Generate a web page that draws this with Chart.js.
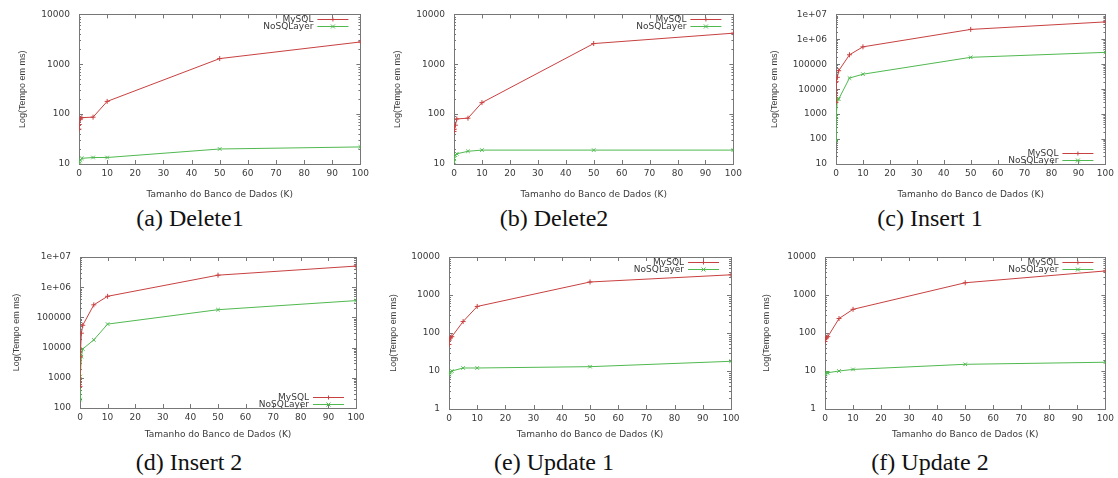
<!DOCTYPE html>
<html>
<head>
<meta charset="utf-8">
<script src="https://cdn.jsdelivr.net/npm/chart.js@4.4.0/dist/chart.umd.min.js"></script>
<style>
  body { margin: 0; background: #fff; width: 1118px; height: 478px; position: relative; overflow: hidden; }
  canvas { position: absolute; }
  .cap { position: absolute; font-family: 'Liberation Serif', 'DejaVu Serif', serif; font-size: 24px; color: #111; white-space: nowrap; transform: translate(-50%, -50%); }
</style>
</head>
<body>
<script>
// database sizes in K records
const sizes = [0.01, 0.1, 0.5, 1, 5, 10, 50, 100];
const xTicks = [0, 10, 20, 30, 40, 50, 60, 70, 80, 90, 100];

const delete1MySQL = [50, 62, 80, 85, 87, 180, 1300, 2800];
const delete1NoSQL = [10, 11, 12, 13, 13.5, 13.5, 20, 22];
const delete2MySQL = [45, 50, 60, 80, 83, 170, 2600, 4200];
const delete2NoSQL = [11, 13, 15, 16, 18, 19, 19, 19];
const insert1MySQL = [3000, 20000, 30000, 55000, 240000, 500000, 2500000, 5000000];
const insert1NoSQL = [85, 800, 4000, 4000, 28000, 40000, 190000, 300000];
const insert2MySQL = [520, 5000, 30000, 55000, 260000, 500000, 2500000, 5000000];
const insert2NoSQL = [190, 1100, 5000, 9000, 18000, 60000, 180000, 360000];
const update1MySQL = [50, 65, 75, 80, 200, 500, 2200, 3400];
const update1NoSQL = [8, 9, 9.5, 10, 12, 12, 13, 18];
const update2MySQL = [60, 70, 75, 80, 240, 420, 2100, 4300];
const update2NoSQL = [8, 8.5, 9, 9, 10, 11, 15, 17];

const ticksSmall = [10, 100, 1000, 10000];
const ticksInsert1 = [10, 100, 1000, 1e4, 1e5, 1e6, 1e7];
const ticksInsert2 = [100, 1000, 1e4, 1e5, 1e6, 1e7];
const ticksUpdate = [1, 10, 100, 1000, 10000];

const RED = 'rgb(200,64,64)';
const GREEN = 'rgb(80,185,80)';
const TXT = '#3a3a3a';
const SANS = "'DejaVu Sans', sans-serif";

// area = [left, top, right, bottom] inside each 200px high canvas
const panels = [
  { x: 0,   y: 0,   w: 373, area: [79, 14, 362, 164], yT: 23, xT: 184, yMin: 10,  yMax: 1e4, yTicks: ticksSmall,   my: delete1MySQL, no: delete1NoSQL, key: 'top',    cap: '(a) Delete1',  cx: 190, cy: 218 },
  { x: 373, y: 0,   w: 373, area: [81, 14, 363, 164], yT: 25, xT: 184, yMin: 10,  yMax: 1e4, yTicks: ticksSmall,   my: delete2MySQL, no: delete2NoSQL, key: 'top',    cap: '(b) Delete2',  cx: 554, cy: 218 },
  { x: 746, y: 0,   w: 372, area: [90, 14, 363, 164], yT: 29, xT: 184, yMin: 10,  yMax: 1e7, yTicks: ticksInsert1, my: insert1MySQL, no: insert1NoSQL, key: 'bottom', cap: '(c) Insert 1', cx: 930, cy: 218 },
  { x: 0,   y: 240, w: 373, area: [80, 17, 356, 168], yT: 17, xT: 188, yMin: 100, yMax: 1e7, yTicks: ticksInsert2, my: insert2MySQL, no: insert2NoSQL, key: 'bottom', cap: '(d) Insert 2', cx: 189, cy: 462 },
  { x: 373, y: 240, w: 373, area: [76, 17, 358, 169], yT: 21, xT: 188, yMin: 1,   yMax: 1e4, yTicks: ticksUpdate,  my: update1MySQL, no: update1NoSQL, key: 'top',    cap: '(e) Update 1', cx: 554, cy: 462 },
  { x: 746, y: 240, w: 372, area: [79, 17, 360, 169], yT: 21, xT: 188, yMin: 1,   yMax: 1e4, yTicks: ticksUpdate,  my: update2MySQL, no: update2NoSQL, key: 'top',    cap: '(f) Update 2', cx: 930, cy: 462 }
];
const H = 200;

function fmtLog(v) {
  if (v >= 1e6) return '1e+0' + Math.round(Math.log10(v));
  return String(v);
}

function mark(ctx, style, x, y, r) {
  ctx.beginPath();
  if (style === 'cross') {
    ctx.moveTo(x - r, y); ctx.lineTo(x + r, y);
    ctx.moveTo(x, y - r); ctx.lineTo(x, y + r);
  } else {
    ctx.moveTo(x - r, y - r); ctx.lineTo(x + r, y + r);
    ctx.moveTo(x - r, y + r); ctx.lineTo(x + r, y - r);
  }
  ctx.stroke();
}

// gnuplot style border with inward ticks on all sides
const frame = {
  id: 'frame',
  beforeDatasetsDraw(chart) {
    const { ctx, chartArea: a, scales: { x, y } } = chart;
    ctx.save();
    ctx.strokeStyle = '#777';
    ctx.lineWidth = 1;
    ctx.strokeRect(Math.round(a.left) + 0.5, Math.round(a.top) + 0.5, Math.round(a.right - a.left), Math.round(a.bottom - a.top));
    ctx.beginPath();
    x.ticks.forEach(t => {
      const px = Math.round(x.getPixelForValue(t.value)) + 0.5;
      ctx.moveTo(px, a.bottom); ctx.lineTo(px, a.bottom - 4);
      ctx.moveTo(px, a.top); ctx.lineTo(px, a.top + 4);
    });
    y.ticks.forEach(t => {
      const py = Math.round(y.getPixelForValue(t.value)) + 0.5;
      ctx.moveTo(a.left, py); ctx.lineTo(a.left + 4, py);
      ctx.moveTo(a.right, py); ctx.lineTo(a.right - 4, py);
      for (let m = 2; m <= 9; m++) {
        const v = t.value * m;
        if (v >= y.max) break;
        const pm = Math.round(y.getPixelForValue(v)) + 0.5;
        ctx.moveTo(a.left, pm); ctx.lineTo(a.left + 2, pm);
        ctx.moveTo(a.right, pm); ctx.lineTo(a.right - 2, pm);
      }
    });
    ctx.stroke();
    ctx.restore();
  }
};

const key = {
  id: 'key',
  afterDraw(chart, args, opts) {
    const { ctx, chartArea: a } = chart;
    const rowH = 7;
    const y0 = opts.pos === 'top' ? a.top + 4.5 : a.bottom - 4 - rowH;
    ctx.save();
    ctx.font = '9px ' + SANS;
    ctx.textAlign = 'right';
    ctx.textBaseline = 'middle';
    chart.data.datasets.forEach((ds, i) => {
      const yy = Math.round(y0 + i * rowH) + 0.5;
      ctx.fillStyle = TXT;
      ctx.fillText(ds.label, a.right - 47, yy);
      ctx.strokeStyle = ds.borderColor;
      ctx.lineWidth = 1;
      ctx.beginPath();
      ctx.moveTo(a.right - 43, yy); ctx.lineTo(a.right - 12, yy);
      ctx.stroke();
      mark(ctx, ds.pointStyle, a.right - 27.5, yy, 2);
    });
    ctx.restore();
  }
};

panels.forEach(p => {
  const cv = document.createElement('canvas');
  cv.width = p.w; cv.height = H;
  cv.style.left = p.x + 'px'; cv.style.top = p.y + 'px';
  document.body.appendChild(cv);

  const cap = document.createElement('div');
  cap.className = 'cap';
  cap.textContent = p.cap;
  cap.style.left = p.cx + 'px'; cap.style.top = p.cy + 'px';
  document.body.appendChild(cap);

  const [L, T, R, B] = p.area;
  const tickFont = { family: SANS, size: 9 };

  new Chart(cv.getContext('2d'), {
    type: 'line',
    data: {
      datasets: [
        { label: 'MySQL', data: sizes.map((s, i) => ({ x: s, y: p.my[i] })), borderColor: RED, backgroundColor: RED,
          borderWidth: 1, pointStyle: 'cross', pointRadius: 2.5, pointBorderWidth: 1, tension: 0 },
        { label: 'NoSQLayer', data: sizes.map((s, i) => ({ x: s, y: p.no[i] })), borderColor: GREEN, backgroundColor: GREEN,
          borderWidth: 1, pointStyle: 'crossRot', pointRadius: 2.5, pointBorderWidth: 1, tension: 0 }
      ]
    },
    options: {
      responsive: false,
      animation: false,
      events: [],
      layout: { padding: { left: 0, top: T, right: p.w - R, bottom: 0 } },
      plugins: { legend: { display: false }, tooltip: { enabled: false }, key: { pos: p.key } },
      scales: {
        x: {
          type: 'linear', min: 0, max: 100,
          afterFit: s => { s.height = H - B; },
          afterBuildTicks: s => { s.ticks = xTicks.map(v => ({ value: v })); },
          grid: { display: false, drawTicks: false },
          border: { display: false },
          ticks: { padding: 4, maxRotation: 0, autoSkip: false, color: TXT, font: tickFont },
          title: { display: true, text: 'Tamanho do Banco de Dados (K)', color: TXT, font: tickFont,
                   padding: { top: (H - p.xT) - 5.4, bottom: 0 } }
        },
        y: {
          type: 'logarithmic', min: p.yMin, max: p.yMax,
          afterFit: s => { s.width = L; },
          afterBuildTicks: s => { s.ticks = p.yTicks.map(v => ({ value: v })); },
          grid: { display: false, drawTicks: false },
          border: { display: false },
          ticks: { padding: 9, autoSkip: false, color: TXT, font: tickFont, callback: v => fmtLog(v) },
          title: { display: true, text: 'Log(Tempo em ms)', color: TXT,
                   font: { family: "'Liberation Sans Narrow', 'Liberation Sans', sans-serif", size: 9 },
                   padding: { top: p.yT - 5.4, bottom: 0 } }
        }
      }
    },
    plugins: [frame, key]
  });
});
</script>
</body>
</html>
